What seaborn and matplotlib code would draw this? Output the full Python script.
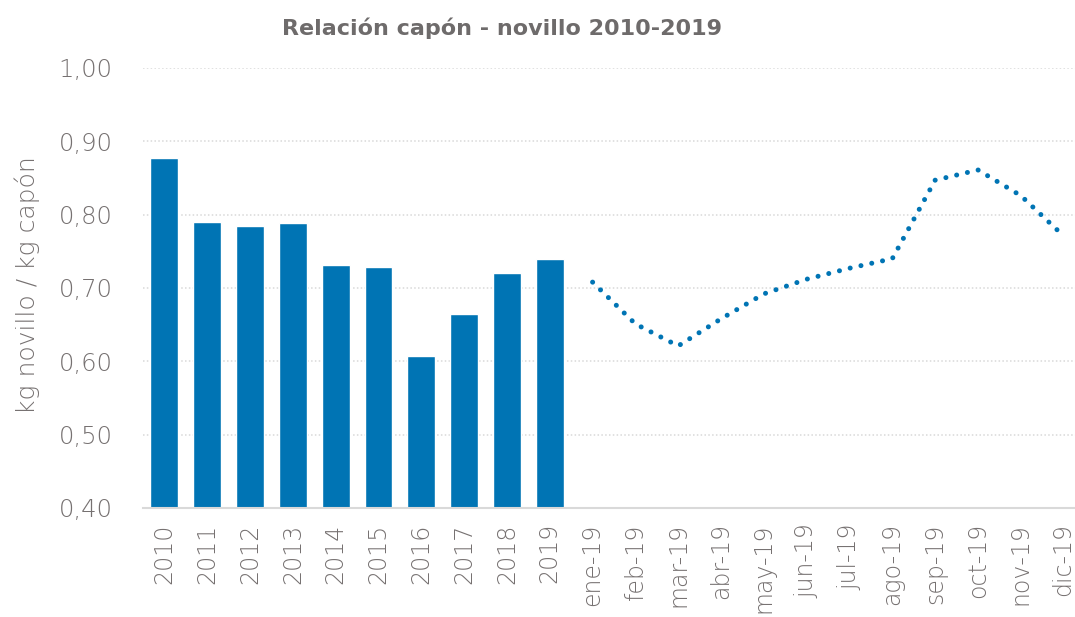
import numpy as np
import pandas as pd
import matplotlib
matplotlib.use("Agg")
import matplotlib.pyplot as plt
import seaborn as sns

# ---- data ----
years = ["2010", "2011", "2012", "2013", "2014", "2015", "2016", "2017", "2018", "2019"]
year_values = [0.877, 0.790, 0.785, 0.788, 0.732, 0.728, 0.607, 0.664, 0.720, 0.740]
months = ["ene-19", "feb-19", "mar-19", "abr-19", "may-19", "jun-19",
          "jul-19", "ago-19", "sep-19", "oct-19", "nov-19", "dic-19"]
month_values = [0.708, 0.651, 0.621, 0.658, 0.692, 0.712,
                0.727, 0.740, 0.847, 0.861, 0.826, 0.771]
y_ticks = [0.40, 0.50, 0.60, 0.70, 0.80, 0.90, 1.00]

title = "Relación capón - novillo 2010-2019"
ylabel = "kg novillo / kg capón"

# ---- style ----
sns.set_theme(style="white")
plt.rcParams["font.family"] = ["DejaVu Sans"]
BLUE = "#0074B4"
TXT = "#767171"
GRID = "#D9D9D9"

categories = years + months
bars_df = pd.DataFrame({"cat": years, "val": year_values})
line_df = pd.DataFrame({"pos": [categories.index(m) for m in months],
                        "val": month_values})

fig = plt.figure(figsize=(10.75, 6.17), dpi=100)
ax = fig.add_axes([143 / 1075, 109 / 617, 942 / 1075, 440 / 617])

sns.barplot(data=bars_df, x="cat", y="val", order=categories, color=BLUE,
            saturation=1, width=0.65, ax=ax, zorder=3)
sns.lineplot(data=line_df, x="pos", y="val", ax=ax, color=BLUE, lw=3.6,
             linestyle=(0, (0.01, 2.2)), dash_capstyle="round", zorder=4)

ax.set_xlim(-0.5, len(categories) - 0.5)
ax.set_ylim(0.40, 1.00)
ax.set_yticks(y_ticks)
ax.set_yticklabels([f"{v:.2f}".replace(".", ",") for v in y_ticks])
ax.set_xticks(range(len(categories)))
ax.set_xticklabels(categories, rotation=90)
ax.set_xlabel("")
ax.set_ylabel("")

for v in y_ticks[1:]:
    ax.axhline(v, color=GRID, lw=1.1, linestyle=(0, (1, 1.5)), zorder=1)

for s in ["top", "right", "left"]:
    ax.spines[s].set_visible(False)
ax.spines["bottom"].set_color(GRID)
ax.spines["bottom"].set_linewidth(1.5)
ax.spines["bottom"].set_zorder(5)

ax.tick_params(axis="y", length=0, pad=22, labelsize=17.5, labelcolor=TXT)
ax.tick_params(axis="x", length=0, pad=11, labelsize=17, labelcolor=TXT)
for lab in ax.get_xticklabels() + ax.get_yticklabels():
    lab.set_fontweight("light")

fig.text(502 / 1075, 1 - 28 / 617, title, ha="center", va="center",
         fontsize=16, fontweight="bold", color="#6E6B6B")
fig.text(27 / 1075, 1 - 285 / 617, ylabel, ha="center", va="center",
         rotation=90, fontsize=18, color=TXT, fontweight="light")

fig.savefig("out.png", dpi=100)
